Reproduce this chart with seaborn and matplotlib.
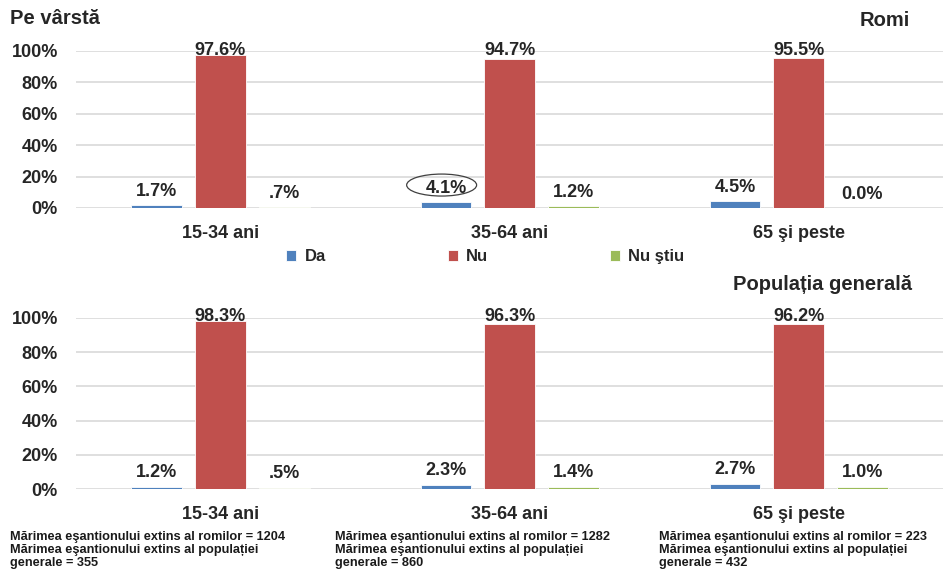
import matplotlib
matplotlib.use("Agg")
import matplotlib.pyplot as plt
from matplotlib.patches import Ellipse
import seaborn as sns
import pandas as pd

# Age groups and answers
age_groups = ["15-34 ani", "35-64 ani", "65 şi peste"]
answers = ["Da", "Nu", "Nu ştiu"]

# Percentages per answer, in age-group order
roma_da = [1.7, 4.1, 4.5]
roma_nu = [97.6, 94.7, 95.5]
roma_ns = [0.7, 1.2, 0.0]

general_da = [1.2, 2.3, 2.7]
general_nu = [98.3, 96.3, 96.2]
general_ns = [0.5, 1.4, 1.0]

sample_notes = [
    "Mărimea eşantionului extins al romilor = 1204\nMărimea eşantionului extins al populației\ngenerale = 355",
    "Mărimea eşantionului extins al romilor = 1282\nMărimea eşantionului extins al populației\ngenerale = 860",
    "Mărimea eşantionului extins al romilor = 223\nMărimea eşantionului extins al populației\ngenerale = 432",
]

palette = {"Da": "#4F81BD", "Nu": "#C0504D", "Nu ştiu": "#9BBB59"}
TEXT = "#262626"

sns.set_theme(style="white")
plt.rcParams["font.family"] = ["Liberation Sans", "DejaVu Sans"]
plt.rcParams["font.weight"] = "bold"


def to_frame(da, nu, ns):
    rows = []
    for ans, vals in zip(answers, [da, nu, ns]):
        for grp, v in zip(age_groups, vals):
            rows.append({"grupa": grp, "raspuns": ans, "valoare": v})
    return pd.DataFrame(rows)


def fmt(v):
    s = f"{v:.1f}%"
    if 0 < v < 1:
        s = s[1:]
    return s


fig = plt.figure(figsize=(9.46, 5.72), dpi=100)
ax_top = fig.add_axes([0.0803, 0.6364, 0.9167, 0.2745])
ax_bot = fig.add_axes([0.0803, 0.1451, 0.9167, 0.2990])

panels = [
    (ax_top, to_frame(roma_da, roma_nu, roma_ns)),
    (ax_bot, to_frame(general_da, general_nu, general_ns)),
]

for ax, df in panels:
    sns.barplot(data=df, x="grupa", y="valoare", hue="raspuns",
                hue_order=answers, order=age_groups, palette=palette,
                width=0.66, gap=0.2, saturation=1, ax=ax,
                edgecolor="white", linewidth=0.6)
    ax.set_xlim(-0.5, 2.5)
    ax.set_ylim(0, 100)
    ax.set_yticks([0, 20, 40, 60, 80, 100])
    ax.set_yticklabels([f"{t}%" for t in [0, 20, 40, 60, 80, 100]])
    ax.yaxis.grid(True, color="#d9d9d9", linewidth=1.2)
    ax.set_axisbelow(True)
    for s in ax.spines.values():
        s.set_visible(False)
    ax.tick_params(axis="both", length=0, labelsize=13, colors=TEXT)
    ax.tick_params(axis="y", pad=13)
    ax.tick_params(axis="x", pad=12)
    for lab in ax.get_xticklabels() + ax.get_yticklabels():
        lab.set_fontweight("bold")
    ax.set_xlabel("")
    ax.set_ylabel("")
    if ax.get_legend() is not None:
        ax.get_legend().remove()

    # value labels above each bar
    for container, ans in zip(ax.containers, answers):
        vals = df[df["raspuns"] == ans]["valoare"].tolist()
        for bar, v in zip(container, vals):
            x = bar.get_x() + bar.get_width() / 2
            y = min(v + 8.5, 100.6)
            ax.text(x, y, fmt(v), ha="center", va="center",
                    fontsize=13, fontweight="bold", color=TEXT,
                    clip_on=False)
            if ax is ax_top and ans == "Da" and v == 4.1:
                ax.add_patch(Ellipse((x - 0.015, y + 2), 0.242, 14,
                                     fill=False, ec="#404040", lw=0.9,
                                     clip_on=False))

# Legend between the two panels
handles, labels = ax_top.get_legend_handles_labels()
fig.legend(handles, answers, loc="center", bbox_to_anchor=(0.513, 0.551),
           ncol=3, frameon=False, handlelength=0.6, handleheight=0.6,
           handletextpad=0.5, columnspacing=7.3,
           prop={"size": 12, "weight": "bold"}, labelcolor=TEXT)

# Panel titles
fig.text(0.011, 1 - 18 / 572, "Pe vârstă", fontsize=14.5, fontweight="bold",
         color=TEXT, ha="left", va="center")
fig.text(0.962, 1 - 20 / 572, "Romi", fontsize=14.5, fontweight="bold",
         color=TEXT, ha="right", va="center")
fig.text(0.964, 1 - 285 / 572, "Populația generală", fontsize=14.5,
         fontweight="bold", color=TEXT, ha="right", va="center")

# Sample-size notes
for xpx, note in zip([10, 335, 659], sample_notes):
    fig.text(xpx / 946, 1 - 531 / 572, note, fontsize=9.2,
             fontweight="bold", color="#1a1a1a", ha="left", va="top",
             linespacing=1.1)

fig.savefig("out.png", dpi=100)
